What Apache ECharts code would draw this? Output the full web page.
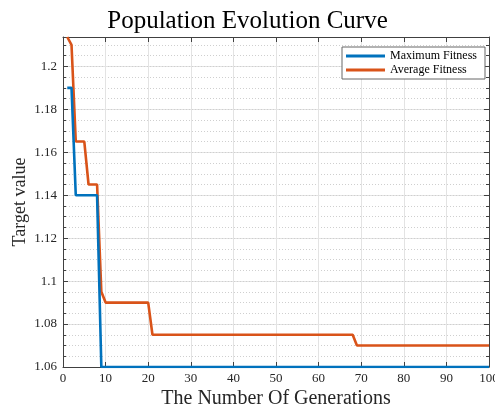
<!DOCTYPE html>
<html>
<head>
<meta charset="utf-8">
<script src="https://cdn.jsdelivr.net/npm/echarts@6/dist/echarts.min.js"></script>
<style>
html,body{margin:0;padding:0;background:#fff;}
#c{width:495px;height:412px;}
</style>
</head>
<body>
<div id="c"></div>
<script>
const titleText = 'Population Evolution Curve';
const xName = 'The Number Of Generations';
const yName = 'Target value';
const seriesNames = ['Maximum Fitness', 'Average Fitness'];

const maxGen = [1, 2, 3, 8, 9, 100];
const maxFit = [1.19, 1.19, 1.14, 1.14, 1.06, 1.06];

const avgGen = [1, 2, 3, 5, 6, 8, 9, 10, 20, 21, 68, 69, 100];
const avgFit = [1.2137, 1.21, 1.165, 1.165, 1.145, 1.145, 1.095, 1.09, 1.09, 1.075, 1.075, 1.07, 1.07];

const xMin = 0, xMax = 100, xStep = 10;
const yMin = 1.06, yMax = 1.2137, yStep = 0.02, yMinorStep = 0.005;

const FONT = '"Liberation Serif", "Times New Roman", serif';
const AX = '#404040';

const chart = echarts.init(document.getElementById('c'), null, {renderer: 'canvas'});

function pairs(xs, ys) { return xs.map((x, i) => [x, ys[i]]); }

const baseY = {
  type: 'value', min: yMin, max: yMax, scale: true,
  axisLabel: {show: false}, splitLine: {show: false},
  axisLine: {show: false}, axisTick: {show: false}
};

chart.setOption({
  animation: false,
  backgroundColor: '#fff',
  title: {
    text: titleText, left: 'center', top: 4,
    textStyle: {fontFamily: FONT, fontSize: 25, fontWeight: 'normal', color: '#000'}
  },
  legend: {
    left: 342, top: 47, orient: 'vertical',
    padding: [3, 8, 3, 4], itemGap: 2,
    itemWidth: 39, itemHeight: 3, icon: 'rect',
    backgroundColor: '#fff', borderColor: '#666', borderWidth: 1,
    textStyle: {fontFamily: FONT, fontSize: 12, color: '#000', lineHeight: 12, padding: [0,0,0,0]},
    data: seriesNames
  },
  grid: {left: 63, right: 6, top: 37, bottom: 45, containLabel: false, outerBoundsMode: 'none'},
  xAxis: [
    {
      type: 'value', min: xMin, max: xMax, interval: xStep, position: 'bottom',
      name: xName, nameLocation: 'middle', nameGap: 22, nameMoveOverlap: false,
      nameTextStyle: {fontFamily: FONT, fontSize: 20, color: '#262626'},
      axisLine: {show: true, lineStyle: {color: AX, width: 1}},
      axisTick: {show: true, inside: true, length: 5, lineStyle: {color: AX}},
      axisLabel: {fontFamily: FONT, fontSize: 13, color: '#262626', margin: 5},
      splitLine: {show: true, lineStyle: {color: '#e3e3e3', width: 1}}
    },
    {
      type: 'value', min: xMin, max: xMax, interval: xStep, position: 'top',
      axisLine: {show: true, lineStyle: {color: AX, width: 1}},
      axisTick: {show: true, inside: true, length: 5, lineStyle: {color: AX}},
      axisLabel: {show: false}, splitLine: {show: false}
    }
  ],
  yAxis: [
    {
      type: 'value', min: yMin, max: yMax, interval: yStep, position: 'left',
      name: yName, nameLocation: 'middle', nameGap: 34, nameMoveOverlap: false,
      nameTextStyle: {fontFamily: FONT, fontSize: 18, color: '#262626'},
      axisLine: {show: true, lineStyle: {color: AX, width: 1}},
      axisTick: {show: true, inside: true, length: 5, lineStyle: {color: AX}},
      axisLabel: {fontFamily: FONT, fontSize: 13, color: '#262626', margin: 6,
        showMaxLabel: false,
        formatter: v => String(parseFloat(v.toFixed(3)))},
      splitLine: {show: true, lineStyle: {color: '#e3e3e3', width: 1}}
    },
    Object.assign({}, baseY, {
      interval: yMinorStep, position: 'left',
      axisTick: {show: true, inside: true, length: 3, lineStyle: {color: AX}},
      splitLine: {show: true, lineStyle: {color: '#cfcfcf', width: 1, type: [1, 2]}}
    }),
    Object.assign({}, baseY, {
      interval: yMinorStep, position: 'right',
      axisLine: {show: true, lineStyle: {color: AX, width: 1}},
      axisTick: {show: true, inside: true, length: 3, lineStyle: {color: AX}}
    }),
    Object.assign({}, baseY, {
      interval: yStep, position: 'right',
      axisTick: {show: true, inside: true, length: 5, lineStyle: {color: AX}}
    })
  ],
  series: [
    {
      name: seriesNames[0], type: 'line', xAxisIndex: 0, yAxisIndex: 0,
      data: pairs(maxGen, maxFit), symbol: 'none', z: 3,
      color: '#0072BD', lineStyle: {color: '#0072BD', width: 2.6}
    },
    {
      name: seriesNames[1], type: 'line', xAxisIndex: 0, yAxisIndex: 0,
      data: pairs(avgGen, avgFit), symbol: 'none', z: 2,
      color: '#D95319', lineStyle: {color: '#D95319', width: 2.6}
    }
  ]
});
</script>
</body>
</html>
